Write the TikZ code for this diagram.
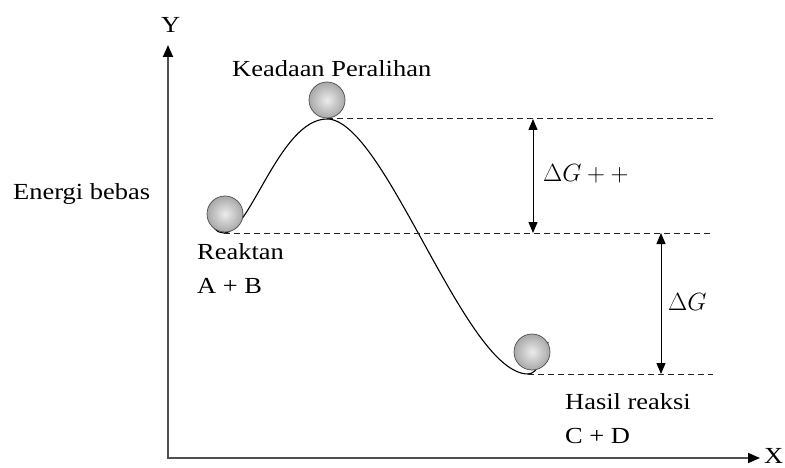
\documentclass[tikz,border=0pt]{standalone}
\usepackage{fontspec}
\setmainfont{Liberation Serif}[FakeStretch=1.15]
\usetikzlibrary{arrows.meta,positioning,calc}
\definecolor{axisgray}{HTML}{505050}
\definecolor{ballgray}{HTML}{A8A8A8}
\begin{document}
\begin{tikzpicture}[x=1pt,y=-1pt,
  lbl/.style={anchor=base west,inner sep=0pt,font=\fontsize{23}{27}\selectfont},
  guide/.style={dash pattern=on 6pt off 4pt,line width=1pt,black!85},
  gap/.style={{Triangle[length=11pt,width=9pt]}-{Triangle[length=11pt,width=9pt]},line width=1pt},
  axis/.style={{Triangle[length=12pt,width=10pt,color=black]}-{Triangle[length=12pt,width=10pt,color=black]},line width=1.8pt,axisgray},
  marble/.style={circle,minimum size=36pt,inner sep=0pt,inner color=gray!15,outer color=ballgray,draw=gray!60!black,line width=0.7pt}]
\useasboundingbox (0,0) rectangle (785,468);
% axes
\coordinate (o) at (168,458);
\coordinate (ytip) at (168,45);
\coordinate (xtip) at (760,458);
\draw[axis] (ytip)--(o)--(xtip);
\node[lbl] (ylab) at (161,33) {Y};
\node[lbl] (xlab) at (764,463) {X};
\node[lbl] (energy) at (13,200) {Energi bebas};
% energy profile
\coordinate (rmin) at (224,233);
\coordinate (peak) at (327,119);
\coordinate (pmin) at (528,374);
\draw[line width=1.1pt] (214,228) .. controls (218,232) .. (rmin)
  .. controls (250,233) and (280,119) .. (peak)
  .. controls (385,119) and (465,374) .. (pmin)
  .. controls (538,374) and (545,355) .. (548,342);
\node[marble] (rball) at (225,214) {};
\node[marble] (tsball) at (327,100) {};
\node[marble] (pball) at (532,352) {};
% levels
\coordinate (lvlend) at (713,119);
\draw[guide] (peak) -- (lvlend);
\draw[guide] (rmin) -- (rmin -| lvlend);
\draw[guide] (pmin) -- (pmin -| lvlend);
\coordinate (tscol) at (533,0);
\coordinate (dgcol) at (661,0);
\draw[gap] (tscol |- peak) -- (tscol |- rmin);
\draw[gap] (dgcol |- rmin) -- (dgcol |- pmin);
\node[lbl] (tsgap) at (543,182) {$\Delta G + +$};
\node[lbl] (dggap) at (668,310) {$\Delta G$};
% labels
\node[lbl] (tslab) at (232,77) {Keadaan Peralihan};
\node[lbl] (react) at (197,259) {Reaktan};
\node[lbl] (reactab) at (197,293) {A + B};
\node[lbl] (prod) at (565,409) {Hasil reaksi};
\node[lbl] (prodcd) at (565,443) {C + D};
\end{tikzpicture}
\end{document}
